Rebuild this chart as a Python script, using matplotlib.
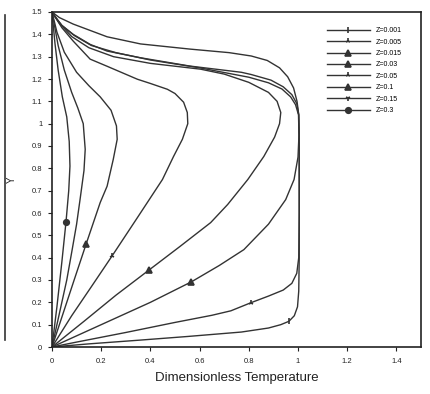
import matplotlib
matplotlib.use("Agg")
import matplotlib.pyplot as plt
from matplotlib.lines import Line2D

plt.rcParams['font.family'] = ['Liberation Sans', 'DejaVu Sans']

labels = ["Z=0.001", "Z=0.005", "Z=0.015", "Z=0.03", "Z=0.05", "Z=0.1", "Z=0.15", "Z=0.3"]
markers = ['|', '2', '^', '^', '2', '^', '1', 'o']

# temperature profiles, outermost (Z=0.001) to innermost (Z=0.3)
t_001 = [0, 0.15, 0.36, 0.55, 0.77, 0.88, 0.93, 0.963, 0.985, 0.998, 1.003, 1.005, 1.005, 1.005,
         1.003, 0.996, 0.982, 0.958, 0.925, 0.875, 0.81, 0.72, 0.56, 0.36, 0.224, 0.086, 0.03, 0]
y_001 = [0, 0.014, 0.031, 0.047, 0.067, 0.085, 0.1, 0.115, 0.14, 0.18, 0.25, 0.4, 0.7, 0.95,
         1.04, 1.1, 1.16, 1.21, 1.25, 1.283, 1.303, 1.318, 1.334, 1.357, 1.389, 1.446, 1.475, 1.5]

t_005 = [0, 0.1, 0.3, 0.5, 0.65, 0.727, 0.808, 0.88, 0.94, 0.975, 0.995, 1.003, 1.005, 1.005,
         1.003, 0.995, 0.975, 0.94, 0.89, 0.81, 0.77, 0.56, 0.36, 0.224, 0.155, 0.086, 0.04, 0.012, 0]
y_005 = [0, 0.022, 0.065, 0.11, 0.142, 0.162, 0.198, 0.228, 0.255, 0.285, 0.33, 0.4, 0.6, 0.9,
         1.04, 1.09, 1.13, 1.165, 1.195, 1.22, 1.23, 1.258, 1.295, 1.325, 1.355, 1.4, 1.44, 1.48, 1.5]

t_015 = [0, 0.2, 0.4, 0.567, 0.68, 0.78, 0.88, 0.95, 0.984, 1.0, 1.004, 1.002, 0.99, 0.97,
         0.935, 0.88, 0.8, 0.6, 0.4, 0.26, 0.16, 0.09, 0.04, 0.012, 0]
y_015 = [0, 0.1, 0.2, 0.292, 0.365, 0.436, 0.55, 0.66, 0.75, 0.85, 0.95, 1.04, 1.085, 1.12,
         1.155, 1.183, 1.208, 1.25, 1.285, 1.318, 1.35, 1.395, 1.44, 1.48, 1.5]

t_03 = [0, 0.13, 0.26, 0.396, 0.52, 0.645, 0.714, 0.796, 0.861, 0.905, 0.925, 0.93, 0.915, 0.88,
        0.8, 0.7, 0.604, 0.4, 0.25, 0.15, 0.08, 0.03, 0]
y_03 = [0, 0.115, 0.232, 0.346, 0.45, 0.557, 0.638, 0.75, 0.853, 0.94, 1.0, 1.05, 1.1, 1.14,
        1.185, 1.222, 1.244, 1.27, 1.3, 1.34, 1.39, 1.45, 1.5]

t_05 = [0, 0.08, 0.16, 0.245, 0.347, 0.449, 0.494, 0.53, 0.552, 0.55, 0.535, 0.5, 0.469, 0.4,
        0.347, 0.224, 0.155, 0.086, 0.04, 0]
y_05 = [0, 0.14, 0.27, 0.409, 0.579, 0.75, 0.853, 0.93, 1.0, 1.05, 1.096, 1.135, 1.154, 1.18,
        1.199, 1.257, 1.289, 1.37, 1.43, 1.5]

t_1 = [0, 0.045, 0.09, 0.139, 0.196, 0.224, 0.249, 0.265, 0.262, 0.24, 0.196, 0.15, 0.1, 0.05,
       0.02, 0]
y_1 = [0, 0.15, 0.3, 0.462, 0.647, 0.72, 0.84, 0.93, 0.99, 1.06, 1.12, 1.17, 1.23, 1.32, 1.41, 1.5]

t_15 = [0, 0.03, 0.06, 0.082, 0.1, 0.114, 0.13, 0.135, 0.127, 0.105, 0.08, 0.05, 0.025, 0]
y_15 = [0, 0.15, 0.3, 0.436, 0.55, 0.66, 0.79, 0.885, 1.0, 1.07, 1.14, 1.24, 1.35, 1.5]

t_3 = [0, 0.02, 0.04, 0.057, 0.068, 0.073, 0.07, 0.06, 0.042, 0.025, 0.012, 0]
y_3 = [0, 0.18, 0.38, 0.561, 0.7, 0.81, 0.92, 1.03, 1.12, 1.24, 1.36, 1.5]

curves = [(t_001, y_001), (t_005, y_005), (t_015, y_015), (t_03, y_03),
          (t_05, y_05), (t_1, y_1), (t_15, y_15), (t_3, y_3)]
# index of the point carrying the curve's symbol (None = no symbol shown)
mark_at = [7, 6, 3, 3, 3, 3, None, 3]

xticks = [0, 0.2, 0.4, 0.6, 0.8, 1, 1.2, 1.4]
yticks = [0, 0.1, 0.2, 0.3, 0.4, 0.5, 0.6, 0.7, 0.8, 0.9, 1, 1.1, 1.2, 1.3, 1.4, 1.5]

fig = plt.figure(figsize=(4.3, 3.94), dpi=100)
ax = fig.add_axes([52 / 430, 1 - 347 / 394, 369 / 430, 335 / 394])

col = '#333333'
handles = []
for (tx, ty), lab, mk, k in zip(curves, labels, markers, mark_at):
    ax.plot(tx, ty, color=col, lw=1.0)
    if k is not None:
        ax.plot(tx[k], ty[k], marker=mk, color=col, ms=4, mew=1.2, ls='none')
    handles.append(Line2D([], [], color=col, lw=1.0, marker=mk, ms=4, mew=1.2, label=lab))

ax.set_xlim(0, 1.5)
ax.set_ylim(0, 1.5)
ax.set_xticks(xticks)
ax.set_yticks(yticks)
ax.set_xticklabels(['%g' % v for v in xticks])
ax.set_yticklabels(['%g' % v for v in yticks])
ax.tick_params(labelsize=5.5, length=3, width=0.8, colors='#222222', pad=4)
ax.tick_params(axis='x', pad=5)
for s in ax.spines.values():
    s.set_linewidth(1.2)
    s.set_color('#222222')

ax.set_xlabel('Dimensionless Temperature', fontsize=9.5, color='#222222')
ax.xaxis.set_label_coords(0.5, -0.075)
ax.set_ylabel('Y', fontsize=7, color='#222222')
ax.yaxis.set_label_coords(-0.095, 0.5)

ax.legend(handles=handles, loc='upper left', bbox_to_anchor=(0.745, 0.955), frameon=False,
          fontsize=5, handlelength=6.2, handletextpad=0.8, labelspacing=0.64,
          borderpad=0, borderaxespad=0)

# left edge of the page scan
fig.add_artist(Line2D([5 / 430, 5 / 430], [1 - 15 / 394, 1 - 340 / 394], color='#333333', lw=1.2))

fig.savefig('out.png', dpi=100)
